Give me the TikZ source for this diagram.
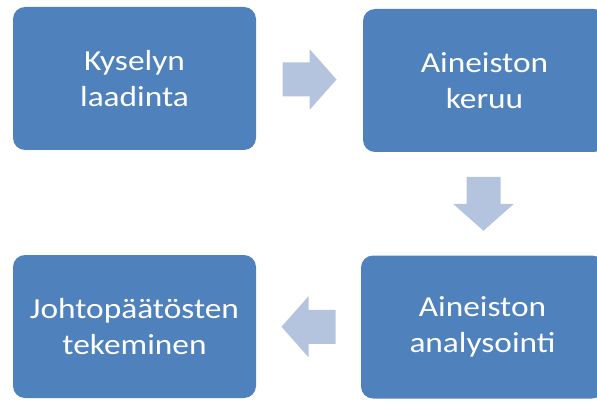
\documentclass[tikz,border=0pt]{standalone}
\usepackage{fontspec}
\setmainfont{Carlito}[FakeStretch=1.15]
\usetikzlibrary{calc}
\definecolor{laatikkovari}{RGB}{79,129,189}
\definecolor{nuolivari}{RGB}{180,196,222}
\tikzset{
	vaihe/.style={rectangle,rounded corners=12pt,fill=laatikkovari,text=white,
		minimum width=243pt,minimum height=143pt,inner sep=0pt,align=center,
		font=\fontsize{29}{36}\selectfont},
	pics/nuoli/.style={code={
		\fill[nuolivari] (-27,-17) -- (0,-17) -- (0,-30.5) -- (27,0) -- (0,30.5) -- (0,17) -- (-27,17) -- cycle;
	}}
}
\begin{document}
\begin{tikzpicture}[x=1pt,y=1pt]
	\useasboundingbox (0,0) rectangle (597,-401);
	\begin{scope}
		\clip (0,0) rectangle (597,-401);
		\node[vaihe] (laadinta) at (134.5,-78.5) {Kyselyn\\laadinta};
		\node[vaihe] (keruu) at (484.5,-80.5) {Aineiston\\keruu};
		\node[vaihe] (analyysi) at (482.5,-327) {Aineiston\\analysointi};
		\node[vaihe] (johtopaatos) at (134.5,-326.5) {Johtopäätösten\\tekeminen};
	\end{scope}
	% nuolet vaiheiden valissa
	\pic at ($(laadinta.east)!0.5!(keruu.west)$) {nuoli};
	\pic[rotate=-90] at ($(keruu.south)!0.5!(analyysi.north)$) {nuoli};
	\pic[rotate=180] at ($(analyysi.west)!0.5!(johtopaatos.east)$) {nuoli};
\end{tikzpicture}
\end{document}
